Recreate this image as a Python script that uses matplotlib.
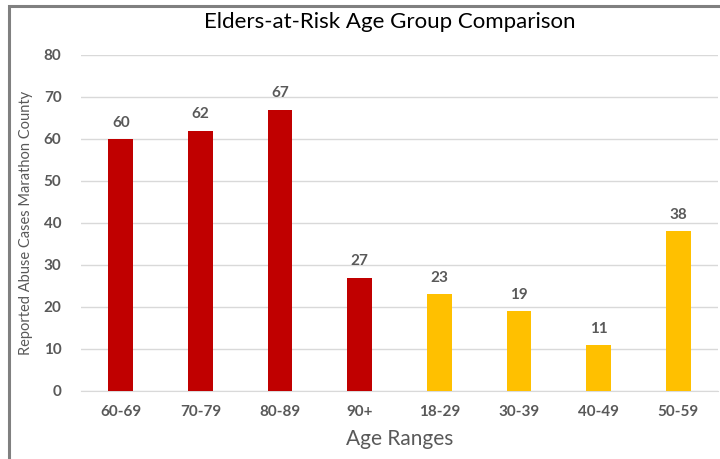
import matplotlib.pyplot as plt
from matplotlib.lines import Line2D

plt.rcParams['font.family'] = ['Lato', 'DejaVu Sans']

categories = ['60-69', '70-79', '80-89', '90+', '18-29', '30-39', '40-49', '50-59']
cases = [60, 62, 67, 27, 23, 19, 11, 38]
colors = ['#C00000'] * 4 + ['#FFC000'] * 4

txt = '#595959'

fig = plt.figure(figsize=(7.2, 4.59), dpi=100)
ax = fig.add_axes([81 / 720, 1 - 391 / 459, (718 - 81) / 720, (391 - 55) / 459])

x = range(len(categories))
bars = ax.bar(x, cases, width=0.31, color=colors, zorder=3)
for b, v in zip(bars, cases):
    ax.text(b.get_x() + b.get_width() / 2, v + 2.2, str(v), ha='center', va='bottom',
            fontsize=11, fontweight='bold', color=txt)

ax.set_xlim(-0.5, len(categories) - 0.5)
ax.set_ylim(0, 80)
ax.set_yticks(range(0, 81, 10))
ax.set_xticks(list(x))
ax.set_xticklabels(categories)
ax.grid(axis='y', color='#D9D9D9', linewidth=1, zorder=0)
for s in ['top', 'right', 'left']:
    ax.spines[s].set_visible(False)
ax.spines['bottom'].set_color('#D9D9D9')
ax.tick_params(length=0, colors=txt, labelsize=11)
ax.tick_params(axis='y', pad=14)
ax.tick_params(axis='x', pad=10)
for lbl in ax.get_xticklabels() + ax.get_yticklabels():
    lbl.set_fontweight('bold')

ax.set_xlabel('Age Ranges', fontsize=15, color=txt, labelpad=7)
ax.set_ylabel('Reported Abuse Cases Marathon County', fontsize=10.5, color=txt, labelpad=8)
fig.text(390 / 720, 1 - 22 / 459, 'Elders-at-Risk Age Group Comparison', ha='center', va='center',
         fontsize=16, color='black')

# frame: left and top edges only
bx, by = 8.5 / 720, 1 - 6 / 459
fig.add_artist(Line2D([bx, bx, 1.0], [0.0, by, by], transform=fig.transFigure,
                      color='#808080', linewidth=2.2, solid_joinstyle='miter'))

fig.savefig('out.png', dpi=100)
